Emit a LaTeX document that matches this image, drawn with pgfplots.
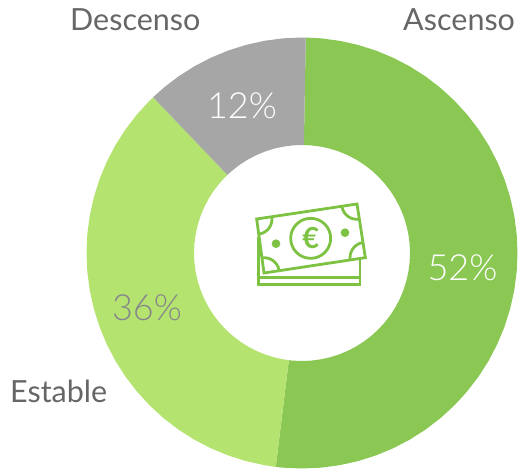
\documentclass[border=0pt]{standalone}
\usepackage{pgfplots}
\pgfplotsset{compat=1.18}
\usepackage{fontspec}
\setmainfont{Lato}
\newfontfamily\lightfont{Lato Light}
\definecolor{asc}{HTML}{8AC853}
\definecolor{est}{HTML}{B4E370}
\definecolor{des}{HTML}{A6A6A6}
\definecolor{ico}{HTML}{7DC242}
\definecolor{lab}{HTML}{666666}
\definecolor{pct}{HTML}{86868A}
\begin{document}
\begin{tikzpicture}
\begin{axis}[
    scale only axis,
    width=518pt, height=469pt,
    xmin=-302, xmax=216,
    ymin=-216, ymax=253,
    hide axis,
    clip=false,
    data cs=polar,
]
% Ascenso 52%
\addplot[draw=none, fill=asc] coordinates {
    (89,215.5) (85,215.5) (80,215.5) (75,215.5) (70,215.5) (65,215.5) (60,215.5) (55,215.5) (50,215.5) (45,215.5)
    (40,215.5) (35,215.5) (30,215.5) (25,215.5) (20,215.5) (15,215.5) (10,215.5) (5,215.5) (0,215.5) (-5,215.5)
    (-10,215.5) (-15,215.5) (-20,215.5) (-25,215.5) (-30,215.5) (-35,215.5) (-40,215.5) (-45,215.5) (-50,215.5)
    (-55,215.5) (-60,215.5) (-65,215.5) (-70,215.5) (-75,215.5) (-80,215.5) (-85,215.5) (-90,215.5) (-95,215.5) (-97,215.5)
    (-97,108) (-95,108) (-90,108) (-85,108) (-80,108) (-75,108) (-70,108) (-65,108) (-60,108) (-55,108) (-50,108)
    (-45,108) (-40,108) (-35,108) (-30,108) (-25,108) (-20,108) (-15,108) (-10,108) (-5,108) (0,108) (5,108)
    (10,108) (15,108) (20,108) (25,108) (30,108) (35,108) (40,108) (45,108) (50,108) (55,108) (60,108) (65,108)
    (70,108) (75,108) (80,108) (85,108) (89,108)
} -- cycle;
% Estable 36%
\addplot[draw=none, fill=est] coordinates {
    (133.7,215.5) (135,215.5) (140,215.5) (145,215.5) (150,215.5) (155,215.5) (160,215.5) (165,215.5) (170,215.5)
    (175,215.5) (180,215.5) (185,215.5) (190,215.5) (195,215.5) (200,215.5) (205,215.5) (210,215.5) (215,215.5)
    (220,215.5) (225,215.5) (230,215.5) (235,215.5) (240,215.5) (245,215.5) (250,215.5) (255,215.5) (260,215.5) (263,215.5)
    (263,108) (260,108) (255,108) (250,108) (245,108) (240,108) (235,108) (230,108) (225,108) (220,108) (215,108)
    (210,108) (205,108) (200,108) (195,108) (190,108) (185,108) (180,108) (175,108) (170,108) (165,108) (160,108)
    (155,108) (150,108) (145,108) (140,108) (135,108) (133.7,108)
} -- cycle;
% Descenso 12%
\addplot[draw=none, fill=des] coordinates {
    (89,215.5) (90,215.5) (95,215.5) (100,215.5) (105,215.5) (110,215.5) (115,215.5) (120,215.5) (125,215.5) (130,215.5) (133.7,215.5)
    (133.7,108) (130,108) (125,108) (120,108) (115,108) (110,108) (105,108) (100,108) (95,108) (90,108) (89,108)
} -- cycle;

\path (rel axis cs:0,0) rectangle (rel axis cs:1,1);

% etiquetas (pixel positions relative to the centre 302,253)
\node[anchor=base west, font=\fontsize{30.5}{30.5}\selectfont, text=lab, inner sep=0pt] at (axis cs:-232,222) {Descenso};
\node[anchor=base west, font=\fontsize{30.5}{30.5}\selectfont, text=lab, inner sep=0pt] at (axis cs:101,222) {Ascenso};
\node[anchor=base west, font=\fontsize{30.5}{30.5}\selectfont, text=lab, inner sep=0pt] at (axis cs:-292,-149) {Estable};

\node[anchor=base, font=\lightfont\fontsize{36}{36}\selectfont, text=white, inner sep=0pt] at (axis cs:-60,134) {12\%};
\node[anchor=base, font=\lightfont\fontsize{36}{36}\selectfont, text=white, inner sep=0pt] at (axis cs:160.5,-27) {52\%};
\node[anchor=base, font=\lightfont\fontsize{36}{36}\selectfont, text=pct, inner sep=0pt] at (axis cs:-155,-67) {36\%};

% billetes: coordinates in the 3x crop of the icon
\begin{scope}[shift={(axis cs:-62,63)}, x=1pt, y=-1pt, scale=1/3, line width=2.8pt, draw=ico]
  \draw (56,140) -- (56,283) -- (360,283) -- (360,210);
  \draw (56,262) -- (360,262);
  \draw[fill=white] (50,87) -- (351,42) -- (376,203) -- (72,249) -- cycle;
  \begin{scope}
    \clip (50,87) -- (351,42) -- (376,203) -- (72,249) -- cycle;
    \draw (50,87) circle (46);
    \draw (351,42) circle (46);
    \draw (376,203) circle (46);
    \draw (72,249) circle (46);
  \end{scope}
  \draw (212,145) circle (60);
  \fill[ico] (108,161) circle (13);
  \fill[ico] (315,128) circle (13);
\end{scope}
\node[font=\fontsize{29}{29}\selectfont\bfseries, text=ico, inner sep=0pt] at (axis cs:8.7,14.7) {€};
\end{axis}
\end{tikzpicture}
\end{document}
